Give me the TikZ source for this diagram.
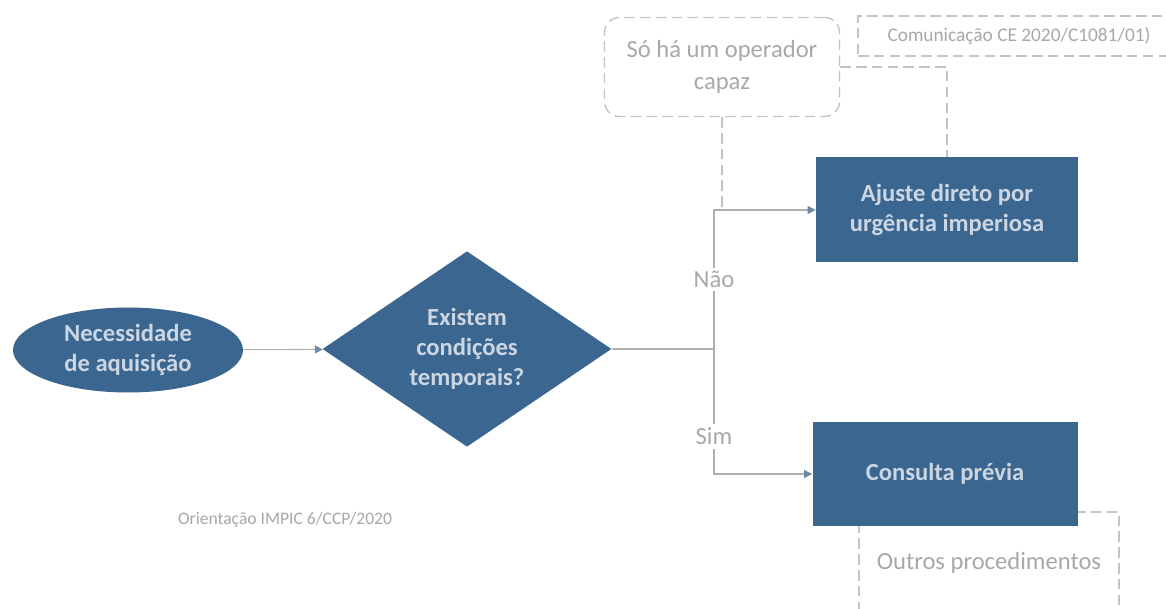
\documentclass[tikz,border=0pt]{standalone}
\usepackage{fontspec}
\setmainfont{Carlito}
\usetikzlibrary{shapes.geometric,arrows.meta}

\definecolor{stepblue}{HTML}{3B6690}
\definecolor{boxtext}{HTML}{CBD6E2}
\definecolor{notegray}{HTML}{A8A8A8}
\definecolor{dashgray}{HTML}{C4C4C4}
\definecolor{linegray}{HTML}{B0B0B0}
\definecolor{tipblue}{HTML}{6F8AA5}

\tikzset{
  blueshape/.style={fill=stepblue, text=boxtext, align=center, font=\bfseries\fontsize{14}{17}\selectfont},
  notebox/.style={draw=dashgray, line width=0.8pt, dash pattern=on 6pt off 3pt, text=notegray, align=center, font=\fontsize{14}{18}\selectfont},
  dashline/.style={draw=dashgray, line width=0.8pt, dash pattern=on 6pt off 3pt},
  plainline/.style={draw=linegray, line width=0.6pt},
  flow/.style={plainline, -{Triangle[length=4.5pt,width=4.5pt,color=tipblue]}},
  branch/.style={fill=white, text=notegray, inner sep=2pt, font=\fontsize{14}{17}\selectfont}
}

\begin{document}
\begin{tikzpicture}
\fill[white] (0,0) rectangle (23.32,12.18);
\useasboundingbox (0,0) rectangle (23.32,12.18);

% dashed notes (behind the blue boxes)
\node[notebox, minimum width=5.2cm, minimum height=2.04cm] (outros) at (19.78,0.92) {Outros procedimentos};
\node[notebox, rounded corners=0.3cm, minimum width=4.7cm, minimum height=1.98cm] (soha) at (14.44,10.84) {Só há um operador\\capaz};
\node[notebox, minimum width=6.44cm, minimum height=0.8cm, font=\fontsize{11}{13}\selectfont] (comunic) at (20.38,11.46) {Comunicação CE 2020/C1081/01)};
\node[text=notegray, font=\fontsize{10}{12}\selectfont] (orient) at (5.7,1.78) {Orientação IMPIC 6/CCP/2020};

%---------------------------------

\node[blueshape, ellipse, inner sep=0pt, minimum width=4.6cm, minimum height=1.7cm] (necess) at (2.56,5.18) {Necessidade\\de aquisição};
\node[blueshape, diamond, inner sep=0pt, minimum width=5.78cm, minimum height=3.46cm] (existem) at (9.34,5.2) {Existem\\condições\\temporais?};
\node[blueshape, minimum width=5.24cm, minimum height=2.1cm] (ajuste) at (18.94,7.98) {Ajuste direto por\\urgência imperiosa};
\node[blueshape, minimum width=5.3cm, minimum height=2.08cm] (consulta) at (18.9,2.7) {Consulta prévia};

%---------------------------------

\coordinate (split) at (14.28,5.2);
\draw[flow] (necess) -- (existem);
\draw[plainline] (existem) -- (split);
\draw[dashline] (soha.south) -- (soha.south |- ajuste.west);
\draw[dashline] (soha.east) -| (ajuste.north);
\draw[flow] (split) |- node[branch, pos=0.25] (nao) {Não} (ajuste);
\draw[flow] (split) |- node[branch, pos=0.35] (sim) {Sim} (consulta);
\end{tikzpicture}
\end{document}
